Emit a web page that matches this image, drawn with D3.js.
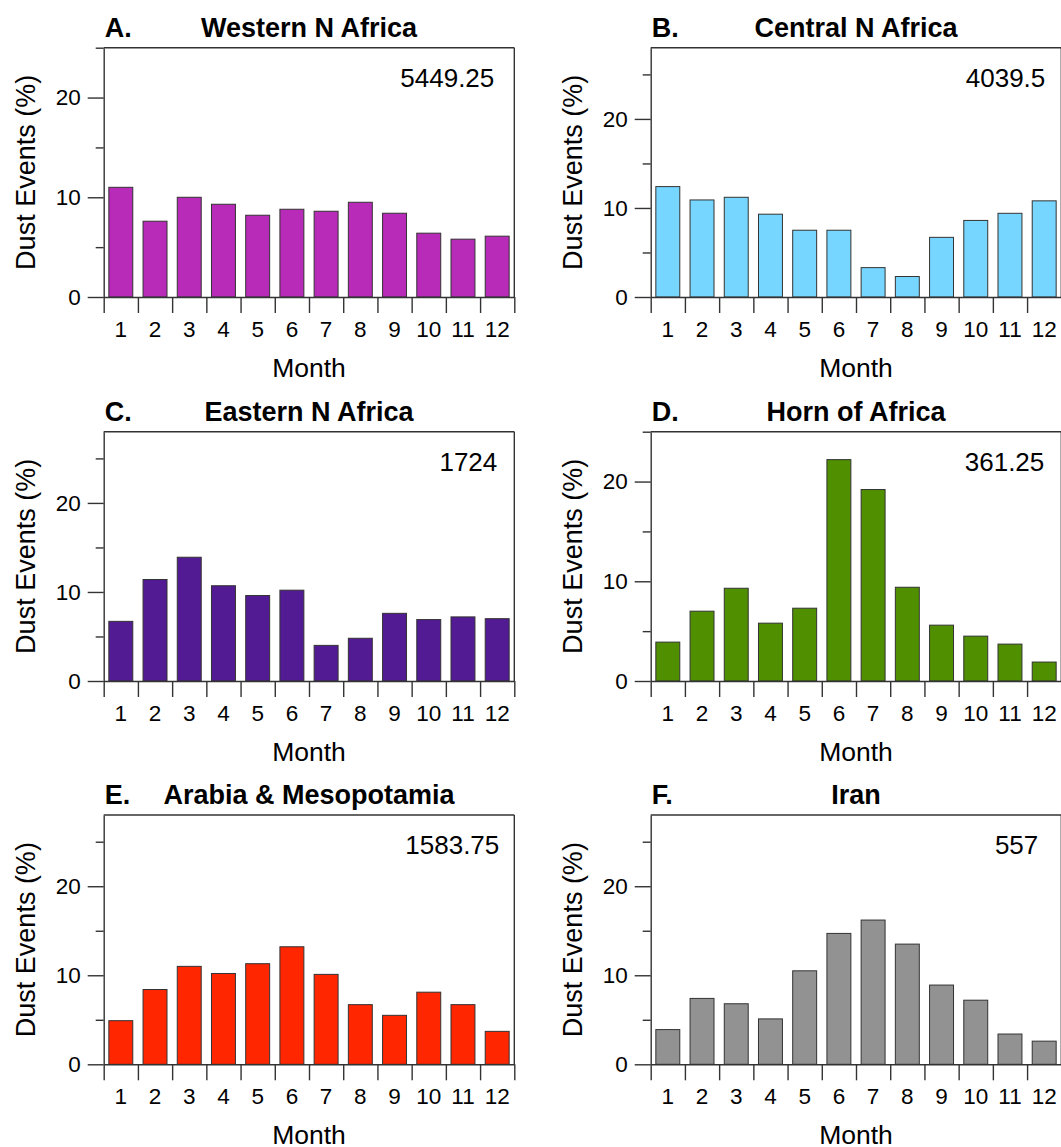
<!DOCTYPE html>
<html>
<head>
<meta charset="utf-8">
<script src="https://cdn.jsdelivr.net/npm/d3@7"></script>
<style>
  html, body { margin: 0; padding: 0; background: #fff; }
  svg { display: block; font-family: "Liberation Sans", Arial, Helvetica, sans-serif; }
</style>
</head>
<body>
<svg id="chart" width="1061" height="1147"></svg>
<script>
// ---------------- DATA ----------------
const months = ["1","2","3","4","5","6","7","8","9","10","11","12"];
const panelLetters = ["A.", "B.", "C.", "D.", "E.", "F."];
const regionNames = ["Western N Africa", "Central N Africa", "Eastern N Africa",
                     "Horn of Africa", "Arabia & Mesopotamia", "Iran"];
const totals = ["5449.25", "4039.5", "1724", "361.25", "1583.75", "557"];

const westernNAfrica = [11.0, 7.6, 10.0, 9.3, 8.2, 8.8, 8.6, 9.5, 8.4, 6.4, 5.8, 6.1];
const centralNAfrica = [12.4, 10.9, 11.2, 9.3, 7.5, 7.5, 3.3, 2.3, 6.7, 8.6, 9.4, 10.8];
const easternNAfrica = [6.7, 11.4, 13.9, 10.7, 9.6, 10.2, 4.0, 4.8, 7.6, 6.9, 7.2, 7.0];
const hornOfAfrica   = [3.9, 7.0, 9.3, 5.8, 7.3, 22.2, 19.2, 9.4, 5.6, 4.5, 3.7, 1.9];
const arabiaMesopotamia = [4.9, 8.4, 11.0, 10.2, 11.3, 13.2, 10.1, 6.7, 5.5, 8.1, 6.7, 3.7];
const iran           = [3.9, 7.4, 6.8, 5.1, 10.5, 14.7, 16.2, 13.5, 8.9, 7.2, 3.4, 2.6];

const yAxisMax = [25, 28, 28, 25, 28, 28];
const yMajorTicks = [0, 10, 20];
const yMinorTicks = [5, 15, 25];

const yAxisTitle = "Dust Events (%)";
const xAxisTitle = "Month";

// ---------------- STYLE / LAYOUT ----------------
const seriesList = [westernNAfrica, centralNAfrica, easternNAfrica, hornOfAfrica, arabiaMesopotamia, iran];
const barColors = ["#B82AB8", "#76D6FF", "#531B93", "#4F8F00", "#FF2600", "#929292"];
const colLefts = [103.7, 650.7];
const rowTops = [47.7, 431.7, 815];
const plotW = 410.6, plotH = 249.3;
const totalOffsets = [20, 16, 17, 17, 15, 23];
const axisColor = "#333";
const tickFont = 22.5;

const svg = d3.select("#chart");

seriesList.forEach((values, i) => {
  const col = i % 2, row = Math.floor(i / 2);
  const g = svg.append("g").attr("transform", `translate(${colLefts[col]},${rowTops[row]})`);

  const x = d3.scaleBand().domain(months).range([0, plotW]).paddingInner(0.3).paddingOuter(0.15);
  const xLin = d3.scaleLinear().domain([0, months.length]).range([0, plotW]);
  const y = d3.scaleLinear().domain([0, yAxisMax[i]]).range([plotH, 0]);

  // bars
  g.selectAll("rect.bar").data(values).join("rect")
    .attr("class", "bar")
    .attr("x", (d, k) => x(months[k]))
    .attr("width", x.bandwidth())
    .attr("y", d => y(d))
    .attr("height", d => y(0) - y(d))
    .attr("fill", barColors[i])
    .attr("stroke", axisColor)
    .attr("stroke-width", 1);

  // frame: top and right
  g.append("line").attr("x1", 0).attr("x2", plotW).attr("y1", 0).attr("y2", 0)
    .attr("stroke", axisColor).attr("stroke-width", 1.4);
  g.append("line").attr("x1", plotW).attr("x2", plotW).attr("y1", 0).attr("y2", plotH)
    .attr("stroke", axisColor).attr("stroke-width", 1.4);

  // y major axis
  const yAx = g.append("g").call(d3.axisLeft(y).tickValues(yMajorTicks).tickSize(16).tickSizeOuter(0).tickPadding(7));
  // y minor axis
  const yMin = g.append("g").call(d3.axisLeft(y).tickValues(yMinorTicks.filter(v => v <= yAxisMax[i])).tickSize(8).tickSizeOuter(0).tickFormat(""));
  yMin.select(".domain").remove();

  // x baseline + labels
  const xAx = g.append("g").attr("transform", `translate(0,${plotH})`)
    .call(d3.axisBottom(x).tickSize(0).tickSizeOuter(0).tickPadding(24));
  // x boundary ticks
  const xTk = g.append("g").attr("transform", `translate(0,${plotH})`)
    .call(d3.axisBottom(xLin).tickValues(d3.range(months.length + 1)).tickSize(16).tickFormat(""));
  xTk.select(".domain").remove();

  [yAx, yMin, xAx, xTk].forEach(a => {
    a.selectAll(".domain").attr("stroke", axisColor).attr("stroke-width", 1.4);
    a.selectAll(".tick line").attr("stroke", axisColor).attr("stroke-width", 1.4);
    a.selectAll(".tick text").attr("fill", "#000").style("font-size", tickFont + "px")
      .style("font-family", '"Liberation Sans", Arial, Helvetica, sans-serif');
  });

  // titles
  g.append("text").attr("x", 1).attr("y", -11)
    .style("font-size", "27px").style("font-weight", "bold").text(panelLetters[i]);
  g.append("text").attr("x", plotW / 2).attr("y", -11).attr("text-anchor", "middle")
    .style("font-size", "27px").style("font-weight", "bold").text(regionNames[i]);

  // total annotation
  g.append("text").attr("x", plotW - totalOffsets[i]).attr("y", 39).attr("text-anchor", "end")
    .style("font-size", "26px").text(totals[i]);

  // axis titles
  g.append("text").attr("x", plotW / 2).attr("y", plotH + 80).attr("text-anchor", "middle")
    .style("font-size", "26.5px").text(xAxisTitle);
  g.append("text").attr("transform", `translate(-69,${plotH / 2}) rotate(-90)`)
    .attr("text-anchor", "middle").style("font-size", "27px").text(yAxisTitle);
});
</script>
</body>
</html>
